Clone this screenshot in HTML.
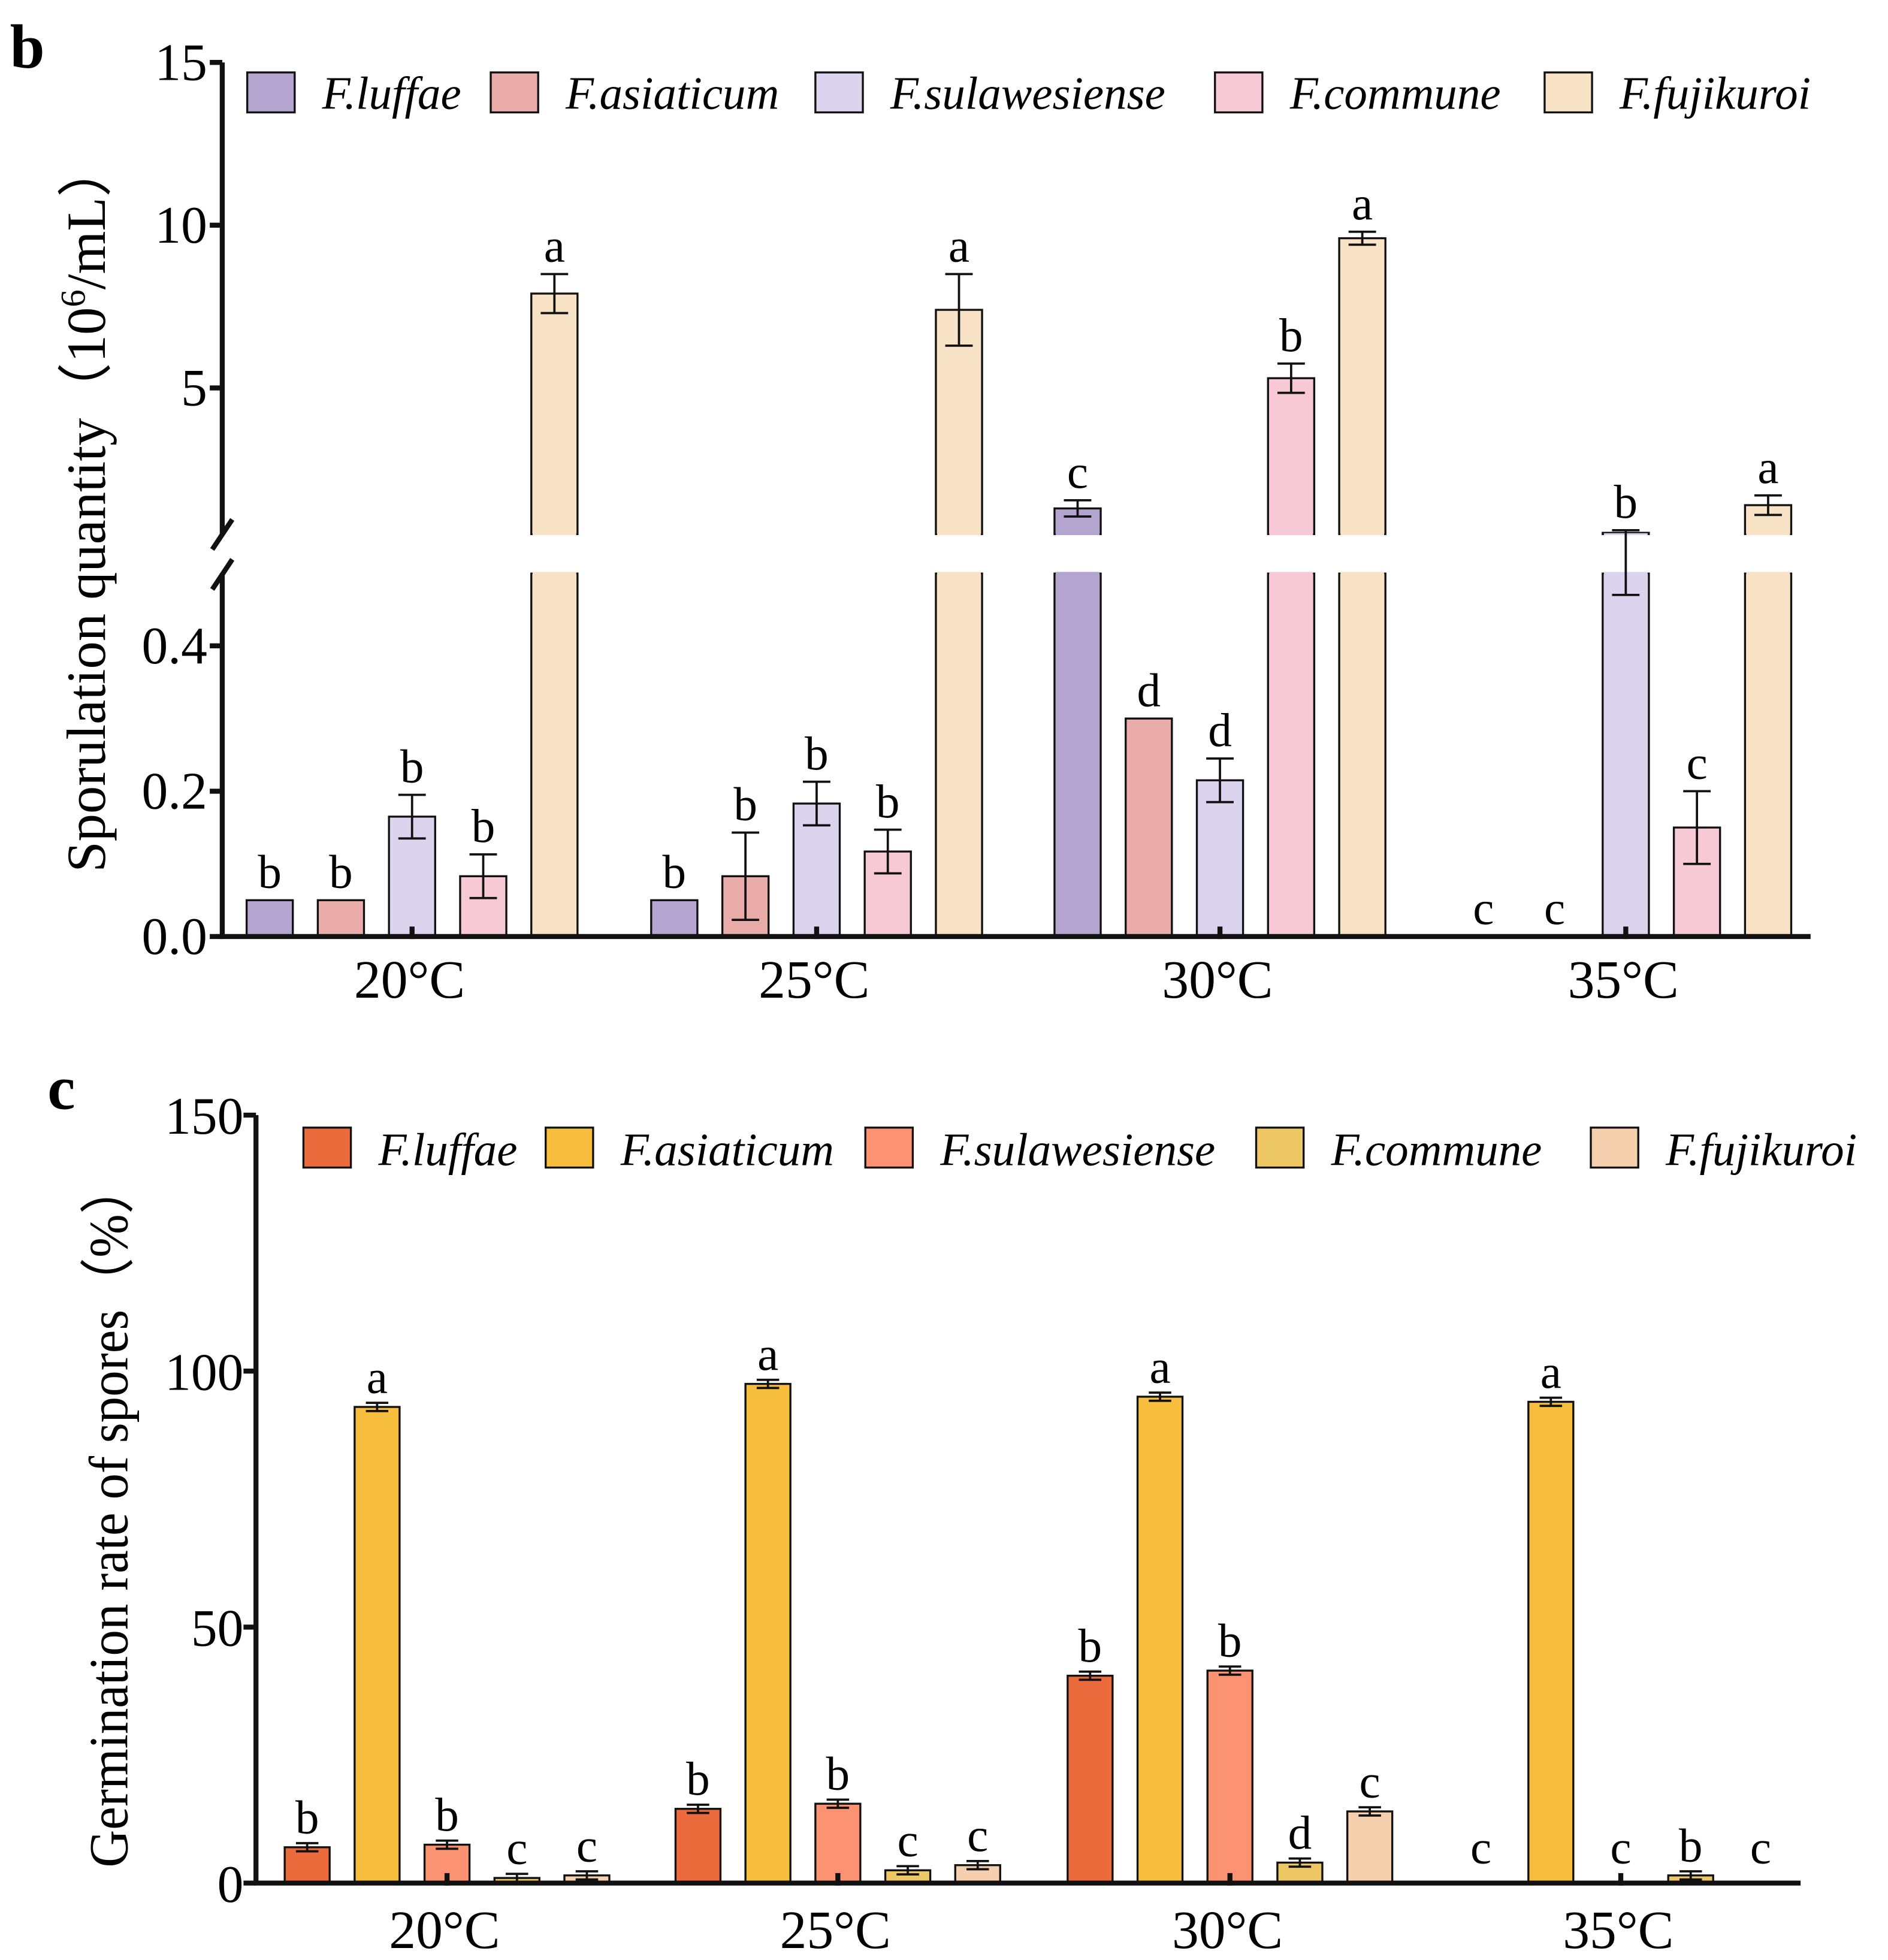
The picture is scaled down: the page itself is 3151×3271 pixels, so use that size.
<!DOCTYPE html>
<html><head><meta charset="utf-8"><style>
html,body{margin:0;padding:0;background:#fff;}
svg{display:block;font-family:"Liberation Serif",serif;}
</style></head><body>
<svg id="chart" width="3151" height="3271" viewBox="0 0 1512 1569.6" preserveAspectRatio="none" xmlns="http://www.w3.org/2000/svg">
<g id="pb"></g>
<g id="pc"></g>
</svg>
<script>
const groups = ["20°C","25°C","30°C","35°C"];
const species = ["F.luffae","F.asiaticum","F.sulawesiense","F.commune","F.fujikuroi"];
// panel b values (10^6/mL)
const bVals = [
  [0.05, 0.05, 0.165, 0.083, 7.9],
  [0.05, 0.083, 0.183, 0.117, 7.4],
  [1.3, 0.30, 0.215, 5.3, 9.6],
  [0, 0, 0.55, 0.15, 1.4]
];
const bErr = [
  [0, 0, 0.03, 0.03, 0.6],
  [0, 0.06, 0.03, 0.03, 1.1],
  [0.25, 0, 0.03, 0.45, 0.2],
  [0, 0, 0.08, 0.05, 0.3]
];
const bLetters = [
  ["b","b","b","b","a"],
  ["b","b","b","b","a"],
  ["c","d","d","b","a"],
  ["c","c","b","c","a"]
];
const bColors = ["#b3a5cf","#eaaca9","#dcd3ee","#f7c9d6","#f8e3c6"];
const bTicksUpper = [5,10,15];
const bTicksLower = [0.0,0.2,0.4];
const bTickLabelsLower = ["0.0","0.2","0.4"];
// panel c values (%)
const cVals = [
  [7, 93, 7.5, 1, 1.5],
  [14.5, 97.5, 15.5, 2.5, 3.5],
  [40.5, 95, 41.5, 4, 14],
  [0, 94, 0, 1.5, 0]
];
const cErr = [
  [0.8,0.8,0.8,0.8,0.8],
  [0.8,0.8,0.8,0.8,0.8],
  [0.8,0.8,0.8,0.8,0.8],
  [0,0.8,0,0.8,0]
];
const cLetters = [
  ["b","a","b","c","c"],
  ["b","a","b","c","c"],
  ["b","a","b","d","c"],
  ["c","a","c","b","c"]
];
const cColors = ["#eb6b3c","#f7bd3c","#fb9272","#edc764","#f5cfae"];
const cTicks = [0,50,100,150];

const NS="http://www.w3.org/2000/svg";
function mk(parent,tag,attrs,text){const e=document.createElementNS(NS,tag);for(const k in attrs)e.setAttribute(k,attrs[k]);if(text!==undefined)e.textContent=text;parent.appendChild(e);return e;}

// ---------- panel b ----------
const pb=document.getElementById('pb');
const bx0=178, bx1=1450, by0=750;
function ybLower(v){return 750-(v/0.5)*(750-459);}
function ybUpper(v){return 428-((v-0.5)/14.5)*(428-50);}
function yb(v){return v<=0.5?ybLower(v):ybUpper(v);}
const bCenters=[330,654,977,1302];
function xb(g,i){return bCenters[g]+(i-2)*57;}
const bw=37;
mk(pb,'text',{x:8,y:54,'font-size':50,'font-weight':'bold'},'b');
for(let g=0;g<groups.length;g++){
  for(let i=0;i<species.length;i++){
    const v=bVals[g][i], e=bErr[g][i], cx=xb(g,i);
    if(v>0){
      const lowTop=ybLower(Math.min(v,0.5));
      const r=mk(pb,'rect',{x:cx-bw/2,y:lowTop,width:bw,height:750-lowTop,fill:bColors[i],stroke:'#111','stroke-width':1.6});
      
      
      if(v>0.5){
        const up=ybUpper(v);
        const r2=mk(pb,'rect',{x:cx-bw/2,y:up,width:bw,height:428-up,fill:bColors[i],stroke:'#111','stroke-width':1.6});
        
        
        mk(pb,'rect',{x:cx-bw/2+1,y:427,width:bw-2,height:3,fill:bColors[i]});
        mk(pb,'rect',{x:cx-bw/2-2,y:428.5,width:bw+4,height:30,fill:'#fff'});
        mk(pb,'rect',{x:cx-bw/2+1,y:458,width:bw-2,height:3,fill:bColors[i]});
      }
    }
    if(e>0){
      const yt=yb(v+e), ybt=yb(Math.max(v-e,0));
      const eb=mk(pb,'path',{d:`M${cx},${yt}V${ybt}M${cx-11},${yt}H${cx+11}M${cx-11},${ybt}H${cx+11}`,stroke:'#111','stroke-width':1.8,fill:'none'});
      
      
    }
    const ly=(v>0?yb(v+e):750)-10;
    const t=mk(pb,'text',{x:cx,y:ly,'font-size':38,'text-anchor':'middle'},bLetters[g][i]);
    
    
  }
  const lab=mk(pb,'text',{x:bCenters[g]-2,y:799,'font-size':43,'text-anchor':'middle'},groups[g]);
  
  
  mk(pb,'line',{x1:bCenters[g],y1:742,x2:bCenters[g],y2:752,stroke:'#111','stroke-width':4});
}
mk(pb,'path',{d:`M${bx0},50V428M${bx0},459V750H${bx1}`,stroke:'#111','stroke-width':4,fill:'none'});
mk(pb,'path',{d:`M170,440L186,416M170,472L186,448`,stroke:'#111','stroke-width':4});
for(let k=0;k<bTicksUpper.length;k++){const y=ybUpper(bTicksUpper[k]);mk(pb,'line',{x1:bx0-10,y1:y,x2:bx0,y2:y,stroke:'#111','stroke-width':4});
  const t=mk(pb,'text',{x:bx0-12,y:y+14,'font-size':42,'text-anchor':'end'},String(bTicksUpper[k]));}
for(let k=0;k<bTicksLower.length;k++){const y=ybLower(bTicksLower[k]);mk(pb,'line',{x1:bx0-10,y1:y,x2:bx0,y2:y,stroke:'#111','stroke-width':4});
  const t=mk(pb,'text',{x:bx0-12,y:y+14,'font-size':42,'text-anchor':'end'},bTickLabelsLower[k]);}
const ytb=mk(pb,'text',{x:0,y:0,'font-size':44,'text-anchor':'middle',textLength:585,lengthAdjust:'spacingAndGlyphs',transform:'translate(84,406) rotate(-90)'});

ytb.innerHTML='Sporulation quantity（10<tspan font-size="28" dy="-16">6</tspan><tspan dy="16">/mL）</tspan>';
const bLegX=[198,393,653,973,1237];
for(let i=0;i<species.length;i++){
  const r=mk(pb,'rect',{x:bLegX[i],y:58,width:38,height:32,fill:bColors[i],stroke:'#111','stroke-width':1.6});
  
  const t=mk(pb,'text',{x:bLegX[i]+60,y:87,'font-size':37,'font-style':'italic'},species[i]);
  
}

// ---------- panel c ----------
const pc=document.getElementById('pc');
const cx0=205, cx1=1442, cy0=1508;
function yc(v){return 1508-v*(1508-893)/150;}
const cCenters=[358,671,985,1298];
function xc(g,i){return cCenters[g]+(i-2)*56;}
const cw=36;
mk(pc,'text',{x:38,y:888,'font-size':50,'font-weight':'bold'},'c');
for(let g=0;g<groups.length;g++){
  for(let i=0;i<species.length;i++){
    const v=cVals[g][i], e=cErr[g][i], x=xc(g,i);
    if(v>0){
      const r=mk(pc,'rect',{x:x-cw/2,y:yc(v),width:cw,height:1508-yc(v),fill:cColors[i],stroke:'#111','stroke-width':1.6});
      
      
    }
    if(v>0&&e>0){
      const yt=yc(v+e), ybt=yc(Math.max(v-e,0));
      const eb=mk(pc,'path',{d:`M${x},${yt}V${ybt}M${x-9},${yt}H${x+9}M${x-9},${ybt}H${x+9}`,stroke:'#111','stroke-width':1.8,fill:'none'});
      
      
    }
    const ly=(v>0?yc(v+e):1500)-8;
    const t=mk(pc,'text',{x:x,y:ly,'font-size':38,'text-anchor':'middle'},cLetters[g][i]);
    
    
  }
  const lab=mk(pc,'text',{x:cCenters[g]-2,y:1560,'font-size':43,'text-anchor':'middle'},groups[g]);
  
  
  mk(pc,'line',{x1:cCenters[g],y1:1500,x2:cCenters[g],y2:1510,stroke:'#111','stroke-width':4});
}
mk(pc,'path',{d:`M${cx0},893V1508H${cx1}`,stroke:'#111','stroke-width':4,fill:'none'});
for(let k=0;k<cTicks.length;k++){const y=yc(cTicks[k]);mk(pc,'line',{x1:cx0-10,y1:y,x2:cx0,y2:y,stroke:'#111','stroke-width':4});
  const t=mk(pc,'text',{x:cx0-10,y:y+15,'font-size':42,'text-anchor':'end'},String(cTicks[k]));}
const ytc=mk(pc,'text',{x:0,y:0,'font-size':44,'text-anchor':'middle',textLength:565,lengthAdjust:'spacingAndGlyphs',transform:'translate(102,1213) rotate(-90)'},'Germination rate of spores（%）');

const cLegX=[243,437,693,1006,1274];
for(let i=0;i<species.length;i++){
  const r=mk(pc,'rect',{x:cLegX[i],y:903,width:38,height:32,fill:cColors[i],stroke:'#111','stroke-width':1.6});
  
  const t=mk(pc,'text',{x:cLegX[i]+60,y:933,'font-size':37,'font-style':'italic'},species[i]);
  
}
</script>
</body></html>
